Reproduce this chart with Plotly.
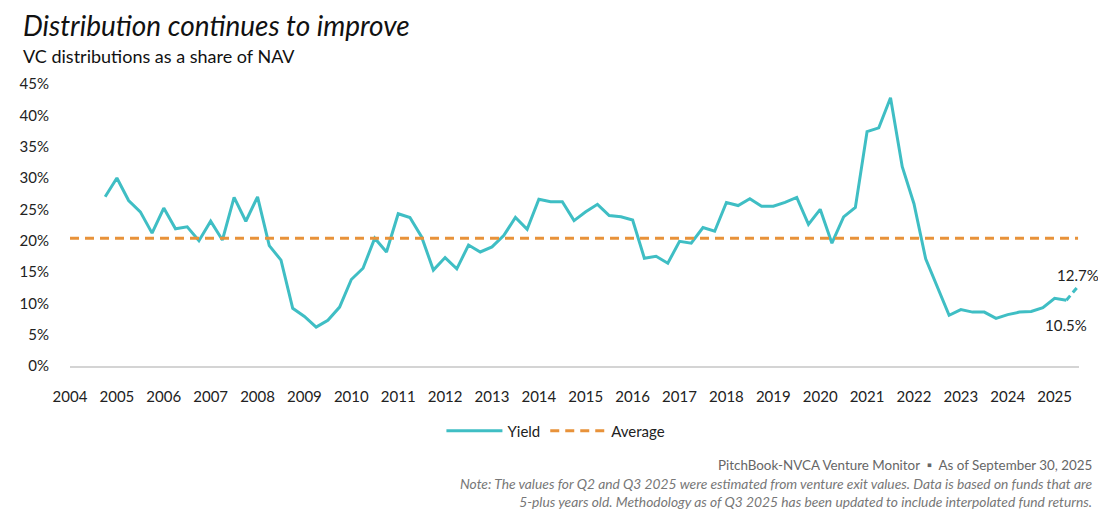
import plotly.graph_objects as go

# ---------------- data ----------------
start_year = 2004
start_quarter = 4          # first observation: Q4 2004
yield_pct = [
    27.0, 30.0, 26.4, 24.6, 21.2, 25.2, 21.9, 22.2, 20.0, 23.1,
    20.1, 26.9, 23.1, 27.0, 19.2, 16.9, 9.2, 7.9, 6.2, 7.3,
    9.4, 13.8, 15.6, 20.4, 18.2, 24.3, 23.7, 20.6, 15.3, 17.3,
    15.5, 19.3, 18.2, 19.0, 20.8, 23.7, 21.8, 26.6, 26.2, 26.2,
    23.2, 24.6, 25.8, 24.0, 23.8, 23.3, 17.2, 17.5, 16.4, 19.9,
    19.6, 22.1, 21.5, 26.1, 25.6, 26.7, 25.5, 25.5, 26.1, 26.9,
    22.6, 25.0, 19.6, 23.8, 25.3, 37.4, 38.0, 42.8, 31.8, 25.9,
    17.1, 12.7, 8.1, 9.0, 8.6, 8.6, 7.6, 8.2, 8.6, 8.7,
    9.3, 10.8, 10.5, 12.7,
]
n_estimated = 1            # final segment (Q2 -> Q3 2025) drawn dashed
average_pct = 20.4
year_ticks = list(range(2004, 2026))
y_ticks = [0, 5, 10, 15, 20, 25, 30, 35, 40, 45]

# quarter positions on a numeric year axis
x_pos = [start_year + (start_quarter - 1 + i) / 4 for i in range(len(yield_pct))]

TEAL = "#3fbec4"
ORANGE = "#e8923a"
FONT = "Lato"

x_min, x_max = 2004.0, x_pos[-1]

fig = go.Figure()

fig.add_trace(go.Scatter(
    x=x_pos[:len(x_pos) - n_estimated], y=yield_pct[:len(yield_pct) - n_estimated],
    mode="lines", name="Yield",
    line=dict(color=TEAL, width=3), cliponaxis=False,
))
fig.add_trace(go.Scatter(
    x=x_pos[-(n_estimated + 1):], y=yield_pct[-(n_estimated + 1):],
    mode="lines", name="Yield (est.)", showlegend=False,
    line=dict(color=TEAL, width=3, dash="6px,4px"), cliponaxis=False,
))
fig.add_trace(go.Scatter(
    x=[x_min, x_max], y=[average_pct, average_pct],
    mode="lines", name="Average",
    line=dict(color=ORANGE, width=3, dash="9px,6px"), cliponaxis=False,
))

# value labels
fig.add_annotation(x=x_pos[-1], y=yield_pct[-1], text=f"{yield_pct[-1]:.1f}%",
                   showarrow=False, xanchor="center", yanchor="bottom", yshift=0,
                   font=dict(family=FONT, size=15, color="#222"))
fig.add_annotation(x=x_pos[-2], y=yield_pct[-2], text=f"{yield_pct[-2]:.1f}%",
                   showarrow=False, xanchor="center", yanchor="top", yshift=-14,
                   font=dict(family=FONT, size=15, color="#222"))

# ---------------- layout geometry ----------------
# the page adds an 8px body margin, so the figure is drawn 8px smaller
OFF = 8
PAGE_W, PAGE_H = 1106, 516
W, H = PAGE_W - OFF, PAGE_H - OFF
plot_left, plot_right, plot_top, plot_bottom = 63, 1079, 84, 366   # page px
L = plot_left - OFF
R = PAGE_W - plot_right
T = plot_top - OFF
B = PAGE_H - plot_bottom
pw, ph = plot_right - plot_left, plot_bottom - plot_top


def px_x(px):
    return (px - plot_left) / pw


def px_y(py):
    return (plot_bottom - py) / ph


fig.add_annotation(xref="paper", yref="paper", x=px_x(14), y=px_y(25),
                   text="<i>Distribution continues to improve</i>", showarrow=False,
                   xanchor="left", yanchor="middle",
                   font=dict(family=FONT, size=28, color="#111"))
fig.add_annotation(xref="paper", yref="paper", x=px_x(14), y=px_y(56),
                   text="VC distributions as a share of NAV", showarrow=False,
                   xanchor="left", yanchor="middle",
                   font=dict(family=FONT, size=18, color="#111"))
fig.add_annotation(xref="paper", yref="paper", x=px_x(1094), y=px_y(465),
                   text="PitchBook-NVCA Venture Monitor  ▪  As of September 30, 2025",
                   showarrow=False, xanchor="right", yanchor="middle",
                   font=dict(family=FONT, size=13.4, color="#666"))
fig.add_annotation(xref="paper", yref="paper", x=px_x(1094), y=px_y(492.5),
                   text="<i>Note: The values for Q2 and Q3 2025 were estimated from venture exit values. "
                        "Data is based on funds that are<br>5-plus years old. Methodology as of Q3 2025 "
                        "has been updated to include interpolated fund returns.</i>",
                   showarrow=False, xanchor="right", yanchor="middle", align="right",
                   font=dict(family=FONT, size=13.8, color="#777"))

fig.update_layout(
    width=W, height=H,
    margin=dict(l=L, r=R, t=T, b=B, pad=0),
    paper_bgcolor="white", plot_bgcolor="white",
    font=dict(family=FONT, size=15, color="#222"),
    showlegend=True,
    legend=dict(orientation="h", x=px_x(437), y=px_y(431), xanchor="left", yanchor="middle",
                font=dict(family=FONT, size=15, color="#222"), bgcolor="rgba(0,0,0,0)",
                itemwidth=56, tracegroupgap=0),
    xaxis=dict(range=[x_min, x_max + 0.02], tickvals=year_ticks,
               ticktext=[str(y) for y in year_ticks],
               showgrid=False, zeroline=False, showline=True, linecolor="#d4d4d4", linewidth=1.5,
               ticks="", ticklabelstandoff=16, tickfont=dict(family=FONT, size=15, color="#222")),
    yaxis=dict(range=[0, 45], tickvals=y_ticks, ticktext=[f"{v}%" for v in y_ticks],
               showgrid=False, zeroline=False, showline=False,
               ticks="", ticklabelstandoff=20, tickfont=dict(family=FONT, size=15, color="#222")),
)

fig.write_html("out.html")
